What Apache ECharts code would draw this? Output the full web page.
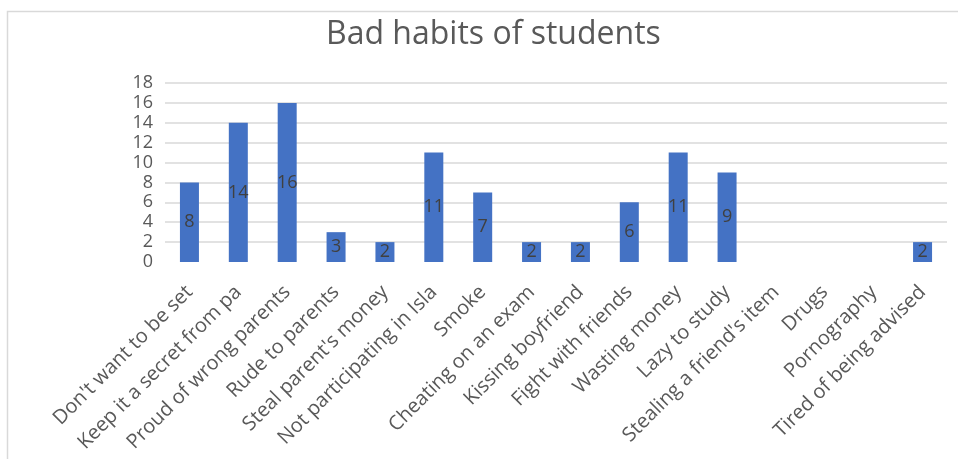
<!DOCTYPE html>
<html>
<head>
<meta charset="utf-8">
<script src="https://cdn.jsdelivr.net/npm/echarts@6/dist/echarts.min.js"></script>
<style>
html,body{margin:0;padding:0;background:#fff;}
#chart{width:958px;height:459px;}
</style>
</head>
<body>
<div id="chart"></div>
<script>
const categories = [
  "Don't want to be set",
  "Keep it a secret from pa",
  "Proud of wrong parents",
  "Rude to parents",
  "Steal parent's money",
  "Not participating in Isla",
  "Smoke",
  "Cheating on an exam",
  "Kissing boyfriend",
  "Fight with friends",
  "Wasting money",
  "Lazy to study",
  "Stealing a friend's item",
  "Drugs",
  "Pornography",
  "Tired of being advised"
];
const values = [8, 14, 16, 3, 2, 11, 7, 2, 2, 6, 11, 9, null, null, null, 2];
const yTicks = [0, 18, 2];

const chart = echarts.init(document.getElementById('chart'));
const font = "'Open Sans', 'Noto Sans', sans-serif";
chart.setOption({
  animation: false,
  backgroundColor: '#fff',
  graphic: [{
    type: 'rect',
    shape: {x: 7.5, y: 11.5, width: 1000, height: 1000},
    style: {fill: 'none', stroke: '#d9d9d9', lineWidth: 1.5},
    silent: true,
    z: -1
  }],
  title: {
    text: 'Bad habits of students',
    left: 321,
    top: 14,
    textStyle: {color: '#595959', fontSize: 32, fontWeight: 'normal', fontFamily: font}
  },
  grid: {left: 165, right: 11, top: 83, bottom: 197, containLabel: false},
  xAxis: {
    type: 'category',
    data: categories,
    axisLine: {show: false},
    axisTick: {show: false},
    axisLabel: {rotate: 45, interval: 0, color: '#595959', fontSize: 20, fontFamily: font, margin: 27}
  },
  yAxis: {
    type: 'value',
    min: yTicks[0],
    max: yTicks[1],
    interval: yTicks[2],
    axisLine: {show: false},
    axisTick: {show: false},
    axisLabel: {color: '#595959', fontSize: 18, fontFamily: font, margin: 12},
    splitLine: {showMinLine: false, lineStyle: {color: '#d9d9d9', width: 1.5}}
  },
  series: [{
    type: 'bar',
    data: values,
    barWidth: 19,
    itemStyle: {color: '#4472c4'},
    label: {show: true, position: 'inside', color: '#404040', fontSize: 18, fontFamily: font}
  }]
});
</script>
</body>
</html>
